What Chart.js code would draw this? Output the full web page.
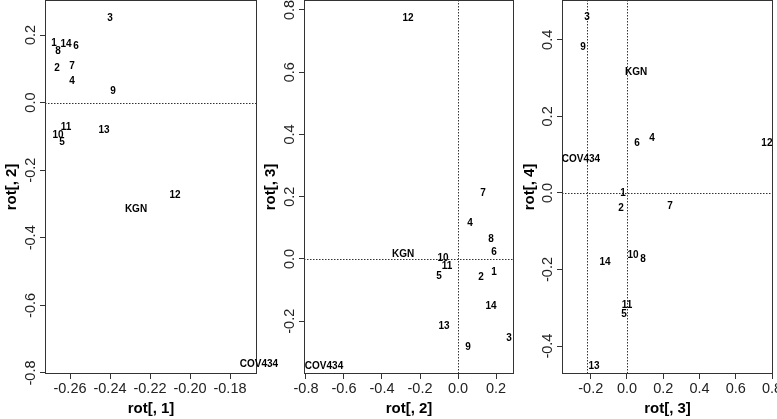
<!DOCTYPE html>
<html>
<head>
<meta charset="utf-8">
<script src="https://cdn.jsdelivr.net/npm/chart.js@4.4.0/dist/chart.umd.min.js"></script>
<style>
  html, body { margin: 0; padding: 0; background: #fff; }
  #wrap { position: relative; width: 777px; height: 419px; overflow: hidden; }
  canvas { position: absolute; top: 0; }
</style>
</head>
<body>
<div id="wrap">
  <canvas id="c1" width="300" height="419" style="left:0px"></canvas>
  <canvas id="c2" width="259" height="419" style="left:259px"></canvas>
  <canvas id="c3" width="259" height="419" style="left:518px"></canvas>
</div>
<script>
// row names (the text drawn at each point)
const names = ["1", "2", "3", "4", "5", "6", "7", "8", "9", "10", "11", "12", "13", "14", "KGN", "COV434"];

// panel 1: rot[,1] vs rot[,2]
const p1x = [-0.268, -0.2665, -0.240, -0.259, -0.264, -0.257, -0.259, -0.266, -0.2385, -0.266, -0.262, -0.2075, -0.243, -0.262, -0.227, -0.1655];
const p1y = [0.175, 0.101, 0.251, 0.062, -0.118, 0.166, 0.109, 0.151, 0.033, -0.098, -0.074, -0.275, -0.083, 0.172, -0.317, -0.775];

// panel 2: rot[,2] vs rot[,3]
const p2x = [0.189, 0.121, 0.268, 0.063, -0.100, 0.189, 0.132, 0.174, 0.053, -0.079, -0.058, -0.263, -0.074, 0.174, -0.289, -0.705];
const p2y = [-0.042, -0.058, -0.256, 0.115, -0.054, 0.022, 0.212, 0.064, -0.285, 0.003, -0.022, 0.772, -0.215, -0.153, 0.016, -0.343];

// panel 3: rot[,3] vs rot[,4]
const p3x = [-0.022, -0.033, -0.221, 0.138, -0.017, 0.055, 0.237, 0.088, -0.243, 0.033, 0.000, 0.772, -0.182, -0.121, 0.050, -0.254];
const p3y = [0.000, -0.040, 0.460, 0.144, -0.316, 0.131, -0.036, -0.173, 0.381, -0.162, -0.294, 0.130, -0.452, -0.182, 0.316, 0.089];

// tick values
const p1xTicks = [-0.26, -0.24, -0.22, -0.20, -0.18];
const p1yTicks = [-0.8, -0.6, -0.4, -0.2, 0.0, 0.2];
const p2xTicks = [-0.8, -0.6, -0.4, -0.2, 0.0, 0.2];
const p2yTicks = [-0.2, 0.0, 0.2, 0.4, 0.6, 0.8];
const p3xTicks = [-0.2, 0.0, 0.2, 0.4, 0.6, 0.8];
const p3yTicks = [-0.4, -0.2, 0.0, 0.2, 0.4];

// dotted reference lines
const p1hLines = [0];
const p1vLines = [];
const p2hLines = [0];
const p2vLines = [0];
const p3hLines = [0];
const p3vLines = [0, -0.219];

const FONT = "'Liberation Sans', Arial, Helvetica, sans-serif";
const INK = "#222";

const textPlugin = {
  id: "rtext",
  afterDatasetsDraw(chart, args, opts) {
    const { ctx, chartArea: a, scales: { x, y } } = chart;
    ctx.save();
    // reference lines
    ctx.strokeStyle = "#333";
    ctx.lineWidth = 1;
    ctx.setLineDash([1.5, 1.5]);
    opts.hLines.forEach(v => {
      const py = Math.round(y.getPixelForValue(v)) + 0.5;
      ctx.beginPath(); ctx.moveTo(a.left, py); ctx.lineTo(a.right, py); ctx.stroke();
    });
    opts.vLines.forEach(v => {
      const px = Math.round(x.getPixelForValue(v)) + 0.5;
      ctx.beginPath(); ctx.moveTo(px, a.top); ctx.lineTo(px, a.bottom); ctx.stroke();
    });
    ctx.setLineDash([]);
    // box
    ctx.strokeStyle = "#333";
    ctx.strokeRect(a.left + 0.5, a.top + 0.5, a.right - a.left - 1, a.bottom - a.top - 1);
    // point labels
    ctx.fillStyle = "#000";
    ctx.font = "bold 10px " + FONT;
    ctx.textAlign = "center";
    ctx.textBaseline = "middle";
    const d = chart.data.datasets[0].data;
    d.forEach((p, i) => {
      ctx.fillText(names[i], x.getPixelForValue(p.x), y.getPixelForValue(p.y));
    });
    // y tick labels, parallel to the axis
    ctx.font = "14.5px " + FONT;
    ctx.fillStyle = INK;
    opts.yTicks.forEach(v => {
      ctx.save();
      ctx.translate(a.left - 14, y.getPixelForValue(v));
      ctx.rotate(-Math.PI / 2);
      ctx.fillText(v.toFixed(1), 0, 0);
      ctx.restore();
    });
    ctx.restore();
  }
};

function makeChart(id, xs, ys, cfg) {
  const pts = xs.map((v, i) => ({ x: v, y: ys[i] }));
  return new Chart(document.getElementById(id), {
    type: "scatter",
    data: { datasets: [{ data: pts, pointRadius: 0, pointHoverRadius: 0 }] },
    options: {
      responsive: false,
      animation: false,
      events: [],
      layout: { padding: { left: 0, right: cfg.padRight, top: 0, bottom: 0 } },
      plugins: {
        legend: { display: false },
        tooltip: { enabled: false },
        rtext: { hLines: cfg.hLines, vLines: cfg.vLines, yTicks: cfg.yTicks }
      },
      scales: {
        x: {
          min: cfg.xRange[0], max: cfg.xRange[1],
          afterBuildTicks: s => { s.ticks = cfg.xTicks.map(v => ({ value: v })); },
          afterFit: s => { s.height = 45; s.paddingLeft = 0; s.paddingRight = 0; },
          ticks: {
            autoSkip: false, maxRotation: 0, padding: 1, color: INK,
            font: { family: FONT, size: 14.5 },
            callback: v => Number(v).toFixed(cfg.xDec)
          },
          grid: { drawOnChartArea: false, drawTicks: true, tickLength: 5, color: "#333" },
          border: { display: false },
          title: {
            display: true, text: cfg.xTitle, color: "#000",
            font: { family: FONT, size: 15, weight: "bold" },
            padding: { top: 0, bottom: 1 }
          }
        },
        y: {
          min: cfg.yRange[0], max: cfg.yRange[1],
          afterBuildTicks: s => { s.ticks = cfg.yTicks.map(v => ({ value: v })); },
          afterFit: s => { s.width = cfg.yWidth; s.paddingTop = 0; s.paddingBottom = 0; },
          ticks: { display: false },
          grid: { drawOnChartArea: false, drawTicks: true, tickLength: 5, color: "#333" },
          border: { display: false },
          title: {
            display: true, text: cfg.yTitle, color: "#000",
            font: { family: FONT, size: 15, weight: "bold" },
            padding: { top: 3, bottom: 0 }
          }
        }
      }
    },
    plugins: [textPlugin]
  });
}

makeChart("c1", p1x, p1y, {
  xRange: [-0.2725, -0.1665], yRange: [-0.803, 0.3036],
  xTicks: p1xTicks, yTicks: p1yTicks, xDec: 2,
  hLines: p1hLines, vLines: p1vLines,
  xTitle: "rot[, 1]", yTitle: "rot[, 2]", yWidth: 45, padRight: 43
});
makeChart("c2", p2x, p2y, {
  xRange: [-0.8105, 0.2947], yRange: [-0.3695, 0.832],
  xTicks: p2xTicks, yTicks: p2yTicks, xDec: 1,
  hLines: p2hLines, vLines: p2vLines,
  xTitle: "rot[, 2]", yTitle: "rot[, 3]", yWidth: 45, padRight: 4
});
makeChart("c3", p3x, p3y, {
  xRange: [-0.3586, 0.8055], yRange: [-0.473, 0.504],
  xTicks: p3xTicks, yTicks: p3yTicks, xDec: 1,
  hLines: p3hLines, vLines: p3vLines,
  xTitle: "rot[, 3]", yTitle: "rot[, 4]", yWidth: 44, padRight: 4
});
</script>
</body>
</html>
